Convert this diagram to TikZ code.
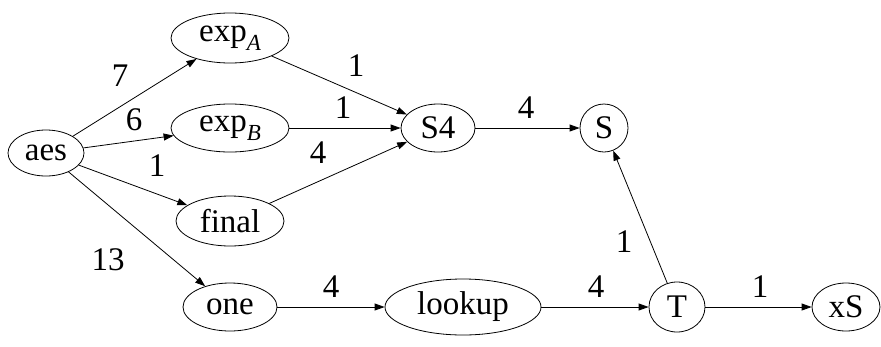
\documentclass[tikz,border=0pt]{standalone}
\usepackage{fontspec}
\setmainfont{Liberation Serif}
\newfontfamily\tmsfont{Liberation Serif}
\usetikzlibrary{shapes.geometric,arrows.meta}
\begin{document}
\begin{tikzpicture}[x=1pt,y=-1pt,
  every node/.style={font=\tmsfont\fontsize{33}{35}\selectfont},
  nd/.style={draw,ellipse,line width=0.8pt,inner sep=0pt},
  edge/.style={line width=0.8pt,-{Triangle[length=10pt,width=7pt]}},
  lbl/.style={inner sep=0pt}]
\useasboundingbox (0,0) rectangle (881,346);
\newcommand{\sbs}[1]{\raisebox{-0.28em}{\fontsize{23}{24}\selectfont\itshape #1}}
\node[nd,minimum width=76,minimum height=46] (aes) at (46,153) {aes};
\node[nd,minimum width=118,minimum height=50] (expA) at (230,38) {exp\sbs{A}};
\node[nd,minimum width=118,minimum height=48] (expB) at (230,128) {exp\sbs{B}};
\node[nd,minimum width=108,minimum height=50] (final) at (230,221) {final};
\node[nd,minimum width=94,minimum height=48] (one) at (230,307) {one};
\node[nd,minimum width=74,minimum height=48] (S4) at (438,128) {S4};
\node[nd,minimum width=48,minimum height=48] (S) at (604,128) {S};
\node[nd,minimum width=156,minimum height=56] (lookup) at (463,307) {lookup};
\node[nd,minimum width=56,minimum height=50] (T) at (677,307) {T};
\node[nd,minimum width=68,minimum height=48] (xS) at (846,307) {xS};
\draw[edge] (aes) -- (expA);
\draw[edge] (aes) -- (expB);
\draw[edge] (aes) -- (final);
\draw[edge] (aes) -- (one);
\draw[edge] (expA) -- (S4);
\draw[edge] (expB) -- (S4);
\draw[edge] (final) -- (S4);
\draw[edge] (S4) -- (S);
\draw[edge] (one) -- (lookup);
\draw[edge] (lookup) -- (T);
\draw[edge] (T) -- (S);
\draw[edge] (T) -- (xS);
\node[lbl] (l1) at (120,76) {7};
\node[lbl] (l2) at (134,120) {6};
\node[lbl] (l3) at (157,166) {1};
\node[lbl] (l4) at (108,260) {13};
\node[lbl] (l5) at (356,66) {1};
\node[lbl] (l6) at (343,108) {1};
\node[lbl] (l7) at (318,153) {4};
\node[lbl] (l8) at (526,108) {4};
\node[lbl] (l9) at (331,287) {4};
\node[lbl] (l10) at (596,287) {4};
\node[lbl] (l11) at (624,242) {1};
\node[lbl] (l12) at (760,287) {1};
\end{tikzpicture}
\end{document}
